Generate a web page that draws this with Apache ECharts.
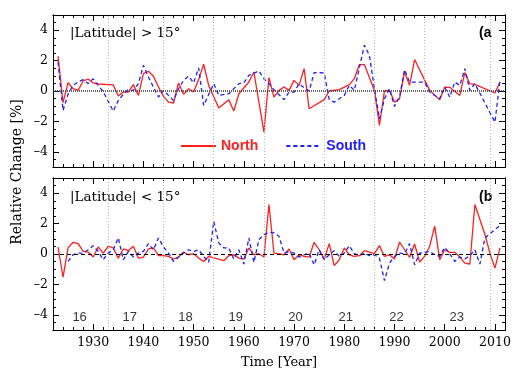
<!DOCTYPE html>
<html>
<head>
<meta charset="utf-8">
<script src="https://cdn.jsdelivr.net/npm/echarts@6/dist/echarts.min.js"></script>
<style>
    html, body { margin: 0; background: #fff; }
    #chart { width: 532px; height: 380px; }
</style>
</head>
<body>
<div id="chart"></div>
<script>
    // |Latitude| > 15 deg, [year, relative change %]
    var northHigh = [[1923,2.29],[1924,-0.77],[1925,0.55],[1926,0.15],[1927,0.04],[1928,0.66],[1929,0.79],[1930,0.53],[1931,0.46],[1934,0.40],[1935,-0.33],[1936,-0.07],[1937,-0.07],[1938,0.42],[1939,-0.29],[1940,1.14],[1941,1.30],[1942,0.97],[1943,0.26],[1944,-0.35],[1945,-0.73],[1946,-0.79],[1947,0.53],[1948,-0.22],[1949,0.15],[1950,-0.07],[1951,0.75],[1952,1.76],[1953,0.37],[1955,-1.12],[1957,-0.57],[1958,-1.32],[1959,-0.18],[1961,0.59],[1962,1.25],[1964,-2.71],[1965,0.88],[1966,-0.40],[1967,0.04],[1968,0.26],[1969,0.04],[1970,0.70],[1971,0.37],[1972,1.47],[1973,-1.17],[1976,-0.57],[1977,0.00],[1979,0.09],[1981,0.42],[1982,0.81],[1983,1.74],[1984,1.74],[1986,0.04],[1987,-2.27],[1988,0.00],[1989,0.04],[1990,-0.73],[1991,-0.51],[1992,1.25],[1993,0.37],[1994,2.07],[1997,0.04],[1999,-0.57],[2000,0.26],[2001,0.24],[2003,-0.29],[2004,1.21],[2005,0.48],[2006,0.44],[2010,-0.13],[2011,0.59]];
    var southHigh = [[1923,1.91],[1924,-1.28],[1925,-0.20],[1926,0.37],[1927,0.60],[1928,0.75],[1929,0.50],[1930,0.80],[1931,0.37],[1932,-0.05],[1934,-1.32],[1935,-0.62],[1936,-0.22],[1937,0.09],[1938,0.04],[1939,0.48],[1940,1.69],[1941,0.92],[1942,0.26],[1943,-0.40],[1944,0.04],[1945,-0.29],[1946,-0.62],[1947,0.15],[1948,0.70],[1949,0.97],[1950,0.53],[1951,1.52],[1952,-0.95],[1954,0.48],[1955,-0.29],[1957,-0.18],[1959,0.48],[1960,0.53],[1961,1.03],[1963,1.32],[1964,0.81],[1965,0.48],[1966,0.09],[1968,-0.57],[1969,-0.07],[1970,-0.07],[1971,0.48],[1972,0.22],[1973,0.00],[1974,1.21],[1976,1.19],[1977,-0.57],[1978,-0.73],[1980,-0.29],[1981,0.37],[1982,0.04],[1984,3.01],[1985,2.35],[1986,0.15],[1987,-1.83],[1988,-0.51],[1989,0.15],[1990,-1.01],[1991,-0.40],[1992,1.41],[1993,0.59],[1996,0.59],[1997,-0.07],[1999,-0.51],[2000,0.26],[2001,-0.40],[2002,0.59],[2003,0.37],[2004,1.47],[2005,0.04],[2006,0.48],[2010,-2.05],[2011,0.70]];

    // |Latitude| < 15 deg
    var northLow = [[1923,0.46],[1924,-1.52],[1925,0.40],[1926,0.77],[1927,0.68],[1928,0.17],[1929,0.13],[1930,-0.20],[1931,0.46],[1932,0.06],[1933,0.51],[1934,0.40],[1935,-0.27],[1936,0.33],[1937,0.22],[1938,0.51],[1939,-0.27],[1940,-0.20],[1941,0.33],[1942,0.40],[1943,-0.11],[1944,-0.11],[1945,-0.16],[1946,-0.33],[1947,-0.20],[1948,0.13],[1949,-0.05],[1950,0.02],[1951,-0.27],[1952,-0.49],[1953,-0.16],[1956,-0.44],[1957,-0.11],[1958,-0.05],[1959,-0.27],[1960,-0.33],[1961,0.40],[1962,-0.05],[1963,0.02],[1964,-0.20],[1965,3.26],[1966,0.06],[1968,-0.05],[1969,0.33],[1970,-0.38],[1971,-0.05],[1972,-0.16],[1973,-0.20],[1974,0.77],[1975,0.28],[1976,-0.33],[1977,0.68],[1978,-0.77],[1979,-0.38],[1980,0.40],[1981,-0.05],[1982,-0.16],[1983,-0.11],[1984,0.22],[1985,0.13],[1986,0.02],[1987,0.55],[1988,-0.16],[1989,-0.05],[1990,-0.33],[1991,0.79],[1992,0.28],[1993,-0.22],[1994,0.66],[1995,-0.53],[1996,-0.16],[1997,0.51],[1998,1.83],[1999,-0.38],[2000,0.28],[2001,0.11],[2002,0.11],[2003,-0.20],[2004,-0.60],[2005,-0.66],[2006,3.26],[2008,1.28],[2009,0.06],[2010,-0.93],[2011,0.40]];
    var southLow = [[1925,-0.49],[1926,-0.05],[1927,0.06],[1928,0.06],[1929,0.28],[1930,0.55],[1931,0.17],[1932,-0.38],[1933,0.06],[1934,0.28],[1935,1.06],[1936,-0.38],[1937,0.17],[1938,-0.20],[1939,0.06],[1940,0.17],[1941,0.68],[1942,0.28],[1943,1.06],[1944,0.46],[1945,0.06],[1946,-0.49],[1947,-0.20],[1948,0.06],[1949,0.28],[1950,0.17],[1951,0.28],[1952,-0.16],[1953,-0.55],[1954,2.16],[1955,0.73],[1956,0.40],[1957,0.40],[1958,-0.33],[1959,0.28],[1960,-0.66],[1961,1.06],[1962,-0.55],[1963,0.95],[1964,1.28],[1965,1.43],[1966,1.39],[1967,1.17],[1968,0.06],[1969,0.17],[1970,0.06],[1971,-0.20],[1972,-0.05],[1973,0.06],[1974,-0.71],[1975,0.28],[1976,-0.38],[1977,-0.05],[1978,0.22],[1979,-0.16],[1980,0.06],[1981,0.55],[1982,0.02],[1983,-0.11],[1984,0.06],[1985,-0.11],[1986,-0.05],[1987,-0.27],[1988,-1.75],[1989,-0.60],[1990,-0.16],[1991,0.06],[1992,0.02],[1993,0.68],[1994,-0.71],[1995,0.06],[1996,0.11],[1997,0.17],[1998,-0.05],[1999,-0.16],[2000,0.44],[2001,0.02],[2002,-0.49],[2003,-0.20],[2004,-0.33],[2005,-0.11],[2006,0.28],[2007,-0.66],[2008,1.06],[2011,1.87]];

    // solar cycle minima (dotted lines) and cycle numbers
    var cycleMinYears = [1933, 1944, 1954, 1964, 1976, 1986, 1996, 2009];
    var cycleNumbers = ['16', '17', '18', '19', '20', '21', '22', '23'];
    var cycleLabelYears = [1927.3, 1937.3, 1948.4, 1958.4, 1970.3, 1980.3, 1990.4, 2002.4];

    var xTickYears = [1930, 1940, 1950, 1960, 1970, 1980, 1990, 2000, 2010];
    var yTickValues = [-4, -2, 0, 2, 4];

    var RED = '#ff2020';
    var BLUE = '#2020ff';
    var SERIF = 'DejaVu Serif';

    var chart = echarts.init(document.getElementById('chart'));

    function makeXAxes(g, withLabels) {
        var base = {
            type: 'value', gridIndex: g, min: 1922, max: 2012,
            splitLine: { show: false },
            axisLine: { show: true, onZero: false, lineStyle: { color: '#000', width: 1 } }
        };
        var list = [];
        ['bottom', 'top'].forEach(function (pos) {
            list.push(Object.assign({}, base, {
                position: pos, interval: 2,
                axisTick: { inside: true, length: 3, lineStyle: { color: '#000' } },
                axisLabel: { show: false }
            }));
            list.push(Object.assign({}, base, {
                position: pos,
                axisTick: { inside: true, length: 6, customValues: xTickYears, lineStyle: { color: '#000' } },
                axisLabel: {
                    show: withLabels && pos === 'bottom', customValues: xTickYears,
                    fontFamily: SERIF, fontSize: 12.5, color: '#000', margin: 6,
                    formatter: function (v) { return String(v); }
                },
                name: withLabels && pos === 'bottom' ? 'Time [Year]' : '',
                nameLocation: 'middle', nameGap: 26,
                nameTextStyle: { fontFamily: SERIF, fontSize: 13, color: '#000' }
            }));
        });
        return list;
    }

    function makeYAxes(g) {
        var base = {
            type: 'value', gridIndex: g, min: -5, max: 5,
            splitLine: { show: false },
            axisLine: { show: true, onZero: false, lineStyle: { color: '#000', width: 1 } }
        };
        var list = [];
        ['left', 'right'].forEach(function (pos) {
            list.push(Object.assign({}, base, {
                position: pos, interval: 0.5,
                axisTick: { inside: true, length: 3, lineStyle: { color: '#000' } },
                axisLabel: { show: false }
            }));
            list.push(Object.assign({}, base, {
                position: pos,
                axisTick: { inside: true, length: 6, customValues: yTickValues, lineStyle: { color: '#000' } },
                axisLabel: {
                    show: pos === 'left', customValues: yTickValues,
                    fontFamily: SERIF, fontSize: 12.5, color: '#000', margin: 5,
                    formatter: function (v) { return v < 0 ? '\u2013' + Math.abs(v) : String(v); }
                }
            }));
        });
        return list;
    }

    function guideSeries(g, zeroType) {
        var lines = cycleMinYears.map(function (y) {
            return { xAxis: y, lineStyle: { color: '#b8b8b8', type: [1, 2], width: 1 } };
        });
        lines.push({ yAxis: 0, lineStyle: zeroType });
        return {
            type: 'line', xAxisIndex: 4 * g, yAxisIndex: 4 * g, data: [], z: 1,
            markLine: { silent: true, symbol: 'none', label: { show: false }, data: lines, animation: false }
        };
    }

    function dataSeries(g, name, data, color, dashed) {
        return {
            name: name, type: 'line', xAxisIndex: 4 * g, yAxisIndex: 4 * g, z: 3,
            data: data, symbol: 'none', smooth: false,
            lineStyle: { color: color, width: 1.3, type: dashed ? [4, 3] : 'solid' },
            itemStyle: { color: color }
        };
    }

    var chartOptions = {
        animation: false,
        backgroundColor: '#fff',
        grid: [
            { left: 53, top: 15, width: 452, height: 152 },
            { left: 53, top: 178, width: 452, height: 152 }
        ],
        xAxis: makeXAxes(0, false).concat(makeXAxes(1, true)),
        yAxis: makeYAxes(0).concat(makeYAxes(1)),
        legend: {
            left: 175, top: 134, itemWidth: 35, itemHeight: 10, itemGap: 27,
            itemStyle: { opacity: 0 },
            data: [
                { name: 'North', textStyle: { color: RED } },
                { name: 'South', textStyle: { color: BLUE } }
            ],
            textStyle: { fontFamily: 'Liberation Sans', fontWeight: 'bold', fontSize: 14 }
        },
        series: [
            guideSeries(0, { color: '#333', type: [1, 1], width: 1.5 }),
            guideSeries(1, { color: '#000', type: [4, 3], width: 1 }),
            dataSeries(0, 'North', northHigh, RED, false),
            dataSeries(0, 'South', southHigh, BLUE, true),
            dataSeries(1, 'North', northLow, RED, false),
            dataSeries(1, 'South', southLow, BLUE, true),
            {
                type: 'scatter', xAxisIndex: 4, yAxisIndex: 4, symbolSize: 1,
                itemStyle: { color: 'rgba(0,0,0,0)' }, silent: true,
                data: cycleLabelYears.map(function (y) { return [y, -4.2]; }),
                label: {
                    show: true, position: 'inside', color: '#000',
                    fontFamily: 'Liberation Sans', fontSize: 13,
                    formatter: function (p) { return cycleNumbers[p.dataIndex]; }
                }
            }
        ],
        graphic: [
            { type: 'text', x: 70, y: 33, style: { text: '|Latitude| > 15\u00b0', font: '13.5px "DejaVu Serif"', fill: '#000', verticalAlign: 'middle' } },
            { type: 'text', x: 70, y: 197, style: { text: '|Latitude| < 15\u00b0', font: '13.5px "DejaVu Serif"', fill: '#000', verticalAlign: 'middle' } },
            { type: 'text', x: 479, y: 33, style: { text: '(a', font: 'bold 14px "Liberation Sans"', fill: '#000', verticalAlign: 'middle' } },
            { type: 'text', x: 479, y: 197, style: { text: '(b', font: 'bold 14px "Liberation Sans"', fill: '#000', verticalAlign: 'middle' } },
            { type: 'text', x: 17, y: 172, rotation: Math.PI / 2, style: { text: 'Relative Change [%]', font: '14px "DejaVu Serif"', fill: '#000', align: 'center', verticalAlign: 'middle' } }
        ]
    };
    chart.setOption(chartOptions);
</script>
</body>
</html>
